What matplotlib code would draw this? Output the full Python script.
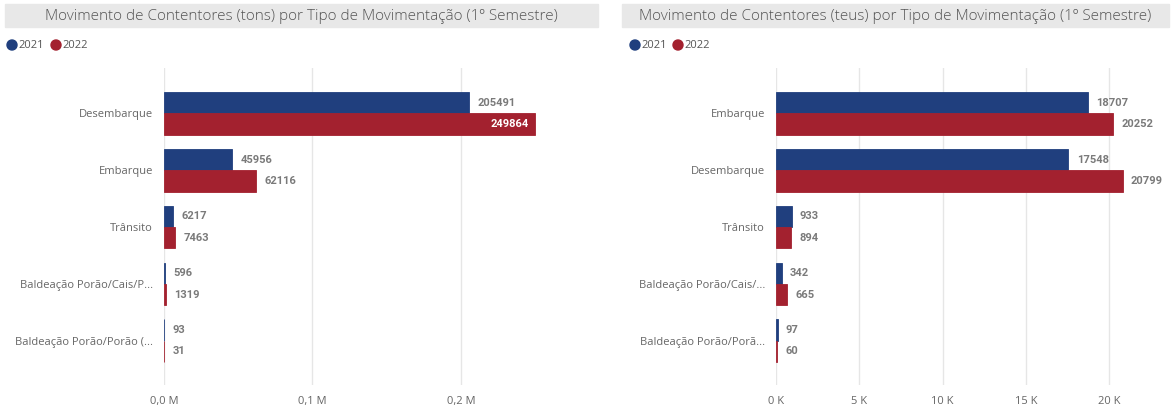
import matplotlib.pyplot as plt
from matplotlib.patches import Rectangle, Ellipse
from matplotlib.ticker import FuncFormatter

# ── Data ──────────────────────────────────────────────────────────────────────
years = ["2021", "2022"]

tons_cats = ["Desembarque", "Embarque", "Trânsito",
             "Baldeação Porão/Cais/P...", "Baldeação Porão/Porão (..."]
tons_2021 = [205491, 45956, 6217, 596, 93]
tons_2022 = [249864, 62116, 7463, 1319, 31]

teus_cats = ["Embarque", "Desembarque", "Trânsito",
             "Baldeação Porão/Cais/...", "Baldeação Porão/Porã..."]
teus_2021 = [18707, 17548, 933, 342, 97]
teus_2022 = [20252, 20799, 894, 665, 60]

titles = ["Movimento de Contentores (tons) por Tipo de Movimentação (1º Semestre)",
          "Movimento de Contentores (teus) por Tipo de Movimentação (1º Semestre)"]

# ── Style ─────────────────────────────────────────────────────────────────────
BLUE = "#203f7e"
RED = "#a3212f"
GREY_TXT = "#666666"
LBL_TXT = "#7a7a7a"
GRID = "#e6e6e6"
BAR_H = 0.375

W, H = 1171, 409
fig = plt.figure(figsize=(W / 100, H / 100), dpi=100)
plt.rcParams["font.family"] = ["Open Sans", "DejaVu Sans"]


def px_box(x0, x1, y0, y1):
    """pixel coords (top-left origin) -> figure fraction rect"""
    return [x0 / W, 1 - y1 / H, (x1 - x0) / W, (y1 - y0) / H]


def panel(box, xmax, cats, v1, v2, fmt, ticks, inside_frac):
    ax = fig.add_axes(box)
    pos = list(range(len(cats)))
    ax.barh([p - BAR_H / 2 for p in pos], v1, height=BAR_H, color=BLUE,
            edgecolor=BLUE, lw=0.6)
    ax.barh([p + BAR_H / 2 for p in pos], v2, height=BAR_H, color=RED,
            edgecolor=RED, lw=0.6)
    ax.set_xlim(0, xmax)
    ax.set_ylim(4.78, -0.8)
    ax.set_yticks(pos)
    ax.set_yticklabels(cats, fontsize=8, color=GREY_TXT)
    ax.set_xticks(ticks)
    ax.xaxis.set_major_formatter(FuncFormatter(fmt))
    ax.tick_params(axis="x", labelsize=8, labelcolor=GREY_TXT, length=0, pad=8)
    ax.tick_params(axis="y", length=0, pad=8)
    ax.grid(axis="x", color=GRID, lw=1)
    ax.set_axisbelow(True)
    for s in ax.spines.values():
        s.set_visible(False)

    # value labels: outside the bar, or inside in white when it won't fit
    for vals, off in ((v1, -BAR_H / 2), (v2, BAR_H / 2)):
        for p, v in zip(pos, vals):
            inside = v > inside_frac * xmax
            ax.annotate(f"{v}", (v, p + off),
                        xytext=(-4, 0) if inside else (6, 0),
                        textcoords="offset points",
                        ha="right" if inside else "left", va="center",
                        fontsize=8, color="white" if inside else LBL_TXT,
                        family="Roboto", fontweight="bold")
    return ax


def header(x0, x1, title, leg_x):
    fig.patches.append(Rectangle((x0 / W, 1 - 27 / H), (x1 - x0) / W, 23 / H,
                                 transform=fig.transFigure, color="#e8e8e8",
                                 zorder=0))
    fig.text((x0 + x1) / 2 / W, 1 - 16 / H, title, ha="center", va="center",
             fontsize=11, color="#555555", fontweight="light")
    for (cx, col, yr) in zip(leg_x, (BLUE, RED), years):
        fig.patches.append(Ellipse((cx / W, 1 - 45 / H), 10 / W, 10 / H,
                                   transform=fig.transFigure, color=col))
        fig.text((cx + 6) / W, 1 - 45 / H, yr, ha="left", va="center",
                 fontsize=8, color="#555555")


panel(px_box(164, 595, 68, 385), 290400, tons_cats, tons_2021, tons_2022,
      lambda x, _: f"{x / 1e6:.1f} M".replace(".", ","), [0, 100000, 200000],
      inside_frac=0.85)
panel(px_box(776, 1165, 68, 385), 23350, teus_cats, teus_2021, teus_2022,
      lambda x, _: f"{x / 1e3:.0f} K", [0, 5000, 10000, 15000, 20000],
      inside_frac=1.0)

header(5, 598, titles[0], (12, 56))
header(622, 1169, titles[1], (635, 678))

fig.savefig("out.png", dpi=100)
